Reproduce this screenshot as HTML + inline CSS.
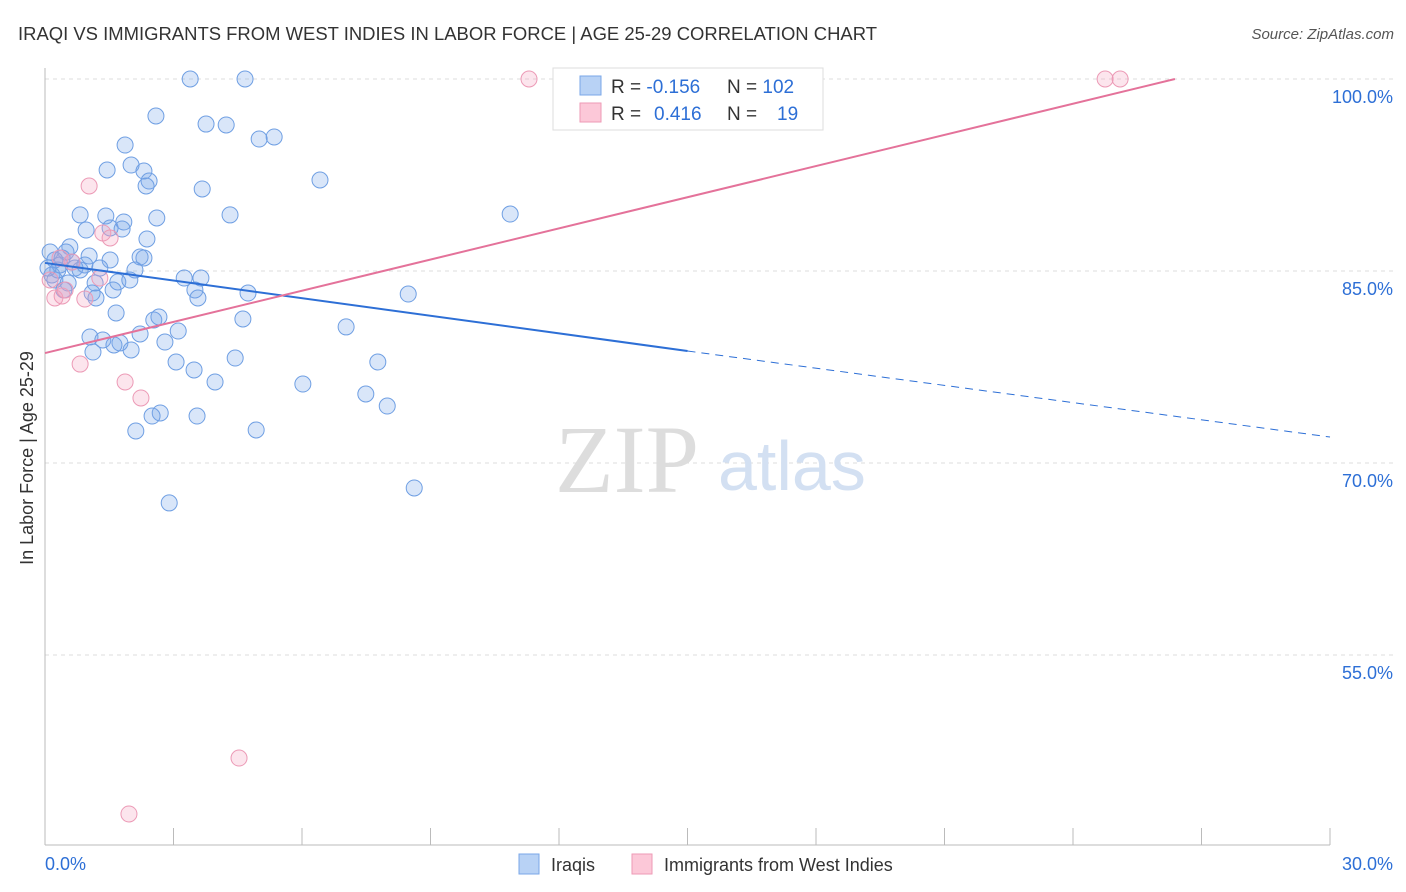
<!DOCTYPE html>
<html><head><meta charset="utf-8"><style>
body{margin:0;background:#fff;font-family:"Liberation Sans",sans-serif;}
svg{display:block}
</style></head><body>
<svg id="chart" width="1406" height="892" xmlns="http://www.w3.org/2000/svg">
<text x="18" y="40" font-size="18" fill="#333" textLength="859" lengthAdjust="spacingAndGlyphs">IRAQI VS IMMIGRANTS FROM WEST INDIES IN LABOR FORCE | AGE 25-29 CORRELATION CHART</text>
<text x="1394" y="39" font-size="15" fill="#555" font-style="italic" text-anchor="end">Source: ZipAtlas.com</text>
<text x="33" y="458" font-size="18" fill="#333" text-anchor="middle" transform="rotate(-90 33 458)">In Labor Force | Age 25-29</text>
<g id="grid"></g>
<text x="555" y="492" font-size="96" fill="#ddd" font-family="Liberation Serif,serif">ZIP</text>
<text x="718" y="490" font-size="70" fill="#d3e0f2">atlas</text>
<g id="points"></g>
<g id="lines"></g>
<g>
<rect x="553" y="68" width="270" height="62" fill="#fff" stroke="#ddd"/>
<rect x="580" y="76" width="21" height="19" fill="#b8d2f5" stroke="#7aa7e8"/>
<rect x="580" y="103" width="21" height="19" fill="#fcc8d8" stroke="#ee9ab6"/>
<text x="611" y="93" font-size="19" fill="#333">R = <tspan fill="#2d6fd6">-0.156</tspan></text>
<text x="727" y="93" font-size="19" fill="#333">N = <tspan fill="#2d6fd6">102</tspan></text>
<text x="611" y="120" font-size="19" fill="#333">R = <tspan fill="#2d6fd6" x="654">0.416</tspan></text>
<text x="727" y="120" font-size="19" fill="#333">N = <tspan fill="#2d6fd6" x="777">19</tspan></text>
</g>
<g>
<rect x="519" y="854" width="20" height="20" fill="#b8d2f5" stroke="#7aa7e8"/>
<text x="551" y="871" font-size="18" fill="#333">Iraqis</text>
<rect x="632" y="854" width="20" height="20" fill="#fcc8d8" stroke="#ee9ab6"/>
<text x="664" y="871" font-size="18" fill="#333">Immigrants from West Indies</text>
</g>
</svg>
<script>
const blueX=[3.39,4.67,2.59,3.76,4.23,5.00,5.35,1.87,1.45,2.01,2.31,2.43,2.36,3.67,6.42,0.82,1.42,1.84,2.61,4.32,10.86,0.96,1.52,1.80,2.38,0.12,0.58,0.49,1.03,1.52,2.22,2.31,0.23,0.35,0.70,0.93,1.28,2.10,3.25,3.64,0.16,0.23,0.54,1.17,1.70,1.98,1.59,1.10,1.19,4.74,3.50,3.57,8.48,0.44,1.66,2.54,2.66,4.62,7.03,3.11,2.22,1.05,2.80,1.35,1.75,1.61,2.01,1.12,3.06,4.44,7.77,3.48,3.97,6.02,7.49,7.99,2.69,2.50,3.55,2.12,4.93,8.62,2.90,0.40,0.63,0.82,0.30,0.07];
const blueY=[100,100,97.11,96.48,96.41,95.31,95.47,94.84,92.89,93.28,92.81,92.03,91.64,91.41,92.11,89.38,89.30,88.83,89.14,89.38,89.45,88.20,88.36,88.28,87.50,86.48,86.88,86.48,86.17,85.86,86.09,86.02,85.86,85.47,85.23,85.47,85.23,85.08,84.45,84.45,84.69,84.30,84.06,84.06,84.14,84.30,83.52,83.28,82.89,83.28,83.52,82.89,83.20,83.52,81.72,81.17,81.41,81.25,80.63,80.31,80.08,79.84,79.45,79.61,79.38,79.22,78.83,78.67,77.89,78.20,77.89,77.27,76.33,76.17,75.39,74.45,73.91,73.67,73.67,72.50,72.58,68.05,66.88,86.02,85.70,85.08,85.08,85.23];
const pinkX=[11.30,24.75,25.10,1.03,1.35,1.52,0.35,0.63,1.28,0.23,0.40,0.93,0.82,1.87,2.24,4.53,1.96,0.12,0.47];
const pinkY=[100,100,100,91.64,87.97,87.58,86.02,85.70,84.45,82.89,83.05,82.81,77.73,76.33,75.08,46.95,42.58,84.30,83.52];
const blueTrend=[85.63,78.75,72.03]; // y at x=0,15,30
const pinkTrend=[78.59,100]; // y at x=0 and x=26.38
const pinkTrendEndX=26.38;
const yTicks=[100,85,70,55];
const xTickLabels=["0.0%","30.0%"];
const NS="http://www.w3.org/2000/svg";
const X=v=>45+v*(1285/30), Y=v=>79+(100-v)*12.8;
function mk(t,a,p){const e=document.createElementNS(NS,t);for(const k in a)e.setAttribute(k,a[k]);p.appendChild(e);return e;}
const grid=document.getElementById('grid');
yTicks.forEach(v=>{
 const l=mk('line',{x1:45,x2:1394,y1:Y(v),y2:Y(v),stroke:'#ddd','stroke-dasharray':'4,4'},grid);
 
 
 const t=mk('text',{x:1393,y:Y(v)+24,'font-size':18,fill:'#2d6fd6','text-anchor':'end'},grid);
 t.textContent=v.toFixed(1)+'%';
 
 
});
const ax=mk('line',{x1:45,x2:45,y1:68,y2:845,stroke:'#bbb'},grid);


const bx=mk('line',{x1:45,x2:1330,y1:845,y2:845,stroke:'#bbb'},grid);


for(let i=0;i<=10;i++){const t=mk('line',{x1:X(i*3),x2:X(i*3),y1:828,y2:845,stroke:'#bbb'},grid);
 
 }
xTickLabels.forEach((s,i)=>{const t=mk('text',{x:i?1393:45,y:870,'font-size':18,fill:'#2d6fd6','text-anchor':i?'end':'start'},grid);t.textContent=s;
 
 });
const pts=document.getElementById('points');
blueX.forEach((x,i)=>{const c=mk('circle',{cx:X(x),cy:Y(blueY[i]),r:8,fill:'rgba(120,165,235,0.28)',stroke:'#6f9fe3','stroke-width':1},pts);
 
 });
pinkX.forEach((x,i)=>{const c=mk('circle',{cx:X(x),cy:Y(pinkY[i]),r:8,fill:'rgba(245,160,190,0.28)',stroke:'#ec9ab6','stroke-width':1},pts);
 
 });
const ln=document.getElementById('lines');
const b1=mk('line',{x1:X(0),y1:Y(blueTrend[0]),x2:X(15),y2:Y(blueTrend[1]),stroke:'#2d6fd6','stroke-width':2},ln);


const b2=mk('line',{x1:X(15),y1:Y(blueTrend[1]),x2:X(30),y2:Y(blueTrend[2]),stroke:'#2d6fd6','stroke-width':1,'stroke-dasharray':'8,6'},ln);


const p1=mk('line',{x1:X(0),y1:Y(pinkTrend[0]),x2:X(pinkTrendEndX),y2:Y(pinkTrend[1]),stroke:'#e4729a','stroke-width':2},ln);


</script>
</body></html>
